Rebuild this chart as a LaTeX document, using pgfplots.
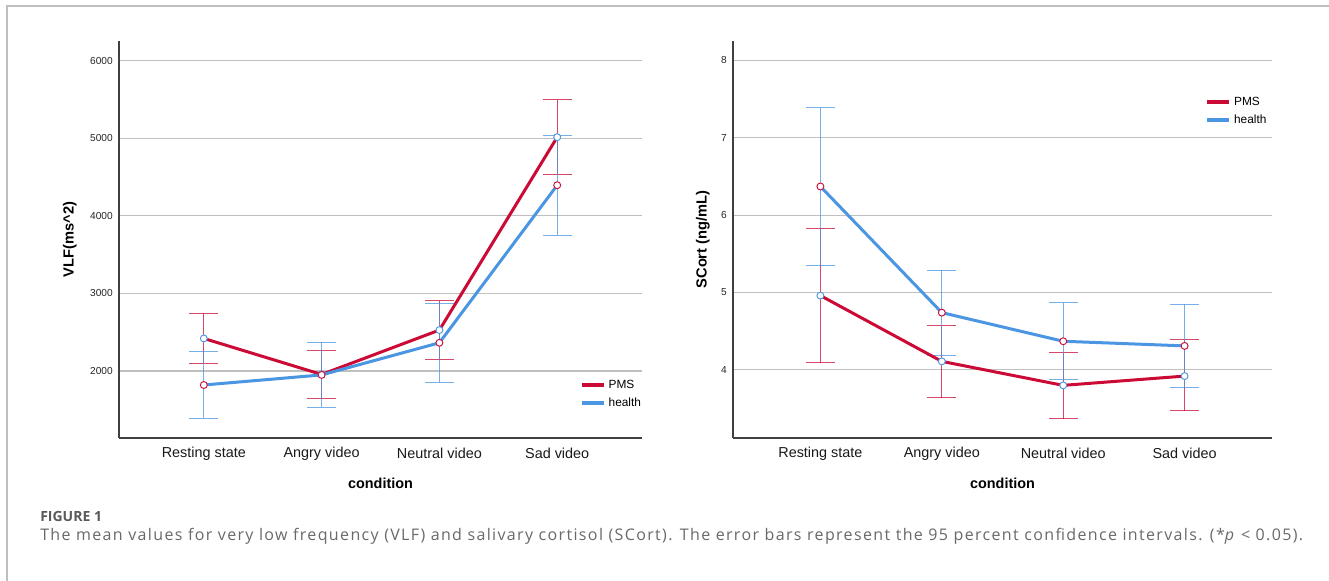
\documentclass[border=0pt]{standalone}
\usepackage{fontspec}
\setmainfont{Liberation Sans}
\newfontfamily\capfont[LetterSpace=8.5]{Open Sans}
\newfontfamily\capfontb{Open Sans}
\usepackage{pgfplots}
\usepackage{pgfplotstable}
\pgfplotsset{compat=1.18}

\definecolor{pms}{RGB}{204,10,54}
\definecolor{hlt}{RGB}{74,150,226}
\definecolor{gridc}{RGB}{192,192,192}
\definecolor{framec}{RGB}{190,190,190}
\definecolor{capgray}{RGB}{105,105,105}

% left: VLF
\pgfplotstableread{
x y ep em
0 2420 318 322
1 1956 314 309
2 2528 377 382
3 5014 480 477
}\vlfpms
\pgfplotstableread{
x y ep em
0 1820 433 430
1 1950 418 414
2 2364 512 506
3 4395 639 644
}\vlfhlt
% right: SCort
\pgfplotstableread{
x y ep em
0 4.96 0.87 0.87
1 4.11 0.46 0.47
2 3.80 0.42 0.43
3 3.92 0.47 0.45
}\scpms
\pgfplotstableread{
x y ep em
0 6.37 1.02 1.02
1 4.74 0.55 0.55
2 4.37 0.50 0.50
3 4.31 0.54 0.54
}\schlt

\pgfplotsset{
  myax/.style={
    scale only axis,
    height=297.75pt,
    xmin=-0.72, xmax=3.72,
    xtick={0,1,2,3},
    xticklabels={Resting state, Angry video, Neutral video, Sad video},
    axis lines=left,
    axis line style={-, draw=black!75, line width=0.9pt},
    major tick length=0pt,
    ymajorgrids,
    grid style={gridc, line width=0.9pt},
    xticklabel style={font=\fontsize{10.8}{13}\selectfont, anchor=center, yshift=-11.5pt, text=black!90},
    yticklabel style={font=\fontsize{7.6}{9}\selectfont, anchor=east, inner sep=0pt, xshift=-4.5pt, text=black!85},
    /pgf/number format/assume math mode=true,
    /pgf/number format/1000 sep={},
    xlabel={condition},
    xlabel style={font=\bfseries\fontsize{10.8}{13}\selectfont, at={(axis description cs:0.5,-0.113)}, anchor=center},
    legend style={draw=none, fill=none, font=\fontsize{8.9}{10}\selectfont, inner sep=0pt, row sep=1.5pt,
      cells={anchor=west}},
    legend image code/.code={\draw[##1, line width=3pt] (0pt,0pt) -- (16.5pt,0pt);},
  },
  ebar/.style={only marks, mark=none, forget plot,
    error bars/.cd, y dir=both, y explicit, error mark=|,
    error bar style={draw=#1, opacity=0.75, line width=0.8pt},
    error mark options={draw=#1, opacity=0.75, line width=0.8pt, mark size=10.9pt}},
  mline/.style={draw=#1, line width=2.25pt, mark=none},
  mdot/.style={only marks, forget plot, mark=*, mark size=2.6pt,
    mark options={draw=#1, fill=white, line width=0.7pt, solid}},
}

\begin{document}
\begin{tikzpicture}
\useasboundingbox (0,0) rectangle (996.75pt,435.75pt);
\fill[white] (0,0) rectangle (996.75pt,435.75pt);
\draw[framec, line width=1.1pt] (5.25pt,0pt) -- (5.25pt,431.25pt) -- (996.75pt,431.25pt);

\begin{axis}[myax, at={(89.25pt,107.25pt)}, anchor=south west,
  width=392.25pt,
  ymin=1137, ymax=6254, ytick={2000,3000,4000,5000,6000},
  ylabel={VLF(ms\textasciicircum 2)},
  ylabel style={font=\bfseries\fontsize{11}{13}\selectfont, at={(axis description cs:-0.094,0.5)}, anchor=center},
  legend style={at={(axis description cs:0.881,0.154)}, anchor=north west},
]
\addplot[ebar=pms] table[x=x, y=y, y error plus=ep, y error minus=em] {\vlfpms};
\addplot[ebar=hlt] table[x=x, y=y, y error plus=ep, y error minus=em] {\vlfhlt};
\addplot[mline=pms] table[x=x, y=y] {\vlfpms};
\addplot[mline=hlt] table[x=x, y=y] {\vlfhlt};
\addplot[mdot=hlt] table[x=x, y=y] {\vlfpms};
\addplot[mdot=pms] table[x=x, y=y] {\vlfhlt};
\legend{PMS, health}
\end{axis}

\begin{axis}[myax, at={(549.75pt,107.25pt)}, anchor=south west,
  width=404.25pt,
  ymin=3.12, ymax=8.25, ytick={4,5,6,7,8},
  ylabel={SCort (ng/mL)},
  ylabel style={font=\bfseries\fontsize{11}{13}\selectfont, at={(axis description cs:-0.056,0.5)}, anchor=center},
  legend style={at={(axis description cs:0.876,0.866)}, anchor=north west},
]
\addplot[ebar=pms] table[x=x, y=y, y error plus=ep, y error minus=em] {\scpms};
\addplot[ebar=hlt] table[x=x, y=y, y error plus=ep, y error minus=em] {\schlt};
\addplot[mline=pms] table[x=x, y=y] {\scpms};
\addplot[mline=hlt] table[x=x, y=y] {\schlt};
\addplot[mdot=hlt] table[x=x, y=y] {\scpms};
\addplot[mdot=pms] table[x=x, y=y] {\schlt};
\legend{PMS, health}
\end{axis}

\node[anchor=base west, inner sep=0pt, text=black!65, font=\capfontb\bfseries\fontsize{10.5}{12}\selectfont] at (30pt,44.25pt) {FIGURE 1};
\node[anchor=base west, inner sep=0pt, text=capgray, font=\capfont\fontsize{12}{13}\selectfont] at (30pt,30pt) {The mean values for very low frequency (VLF) and salivary cortisol (SCort). The error bars represent the 95 percent confidence intervals. (*\textit{p} < 0.05).};
\end{tikzpicture}
\end{document}
